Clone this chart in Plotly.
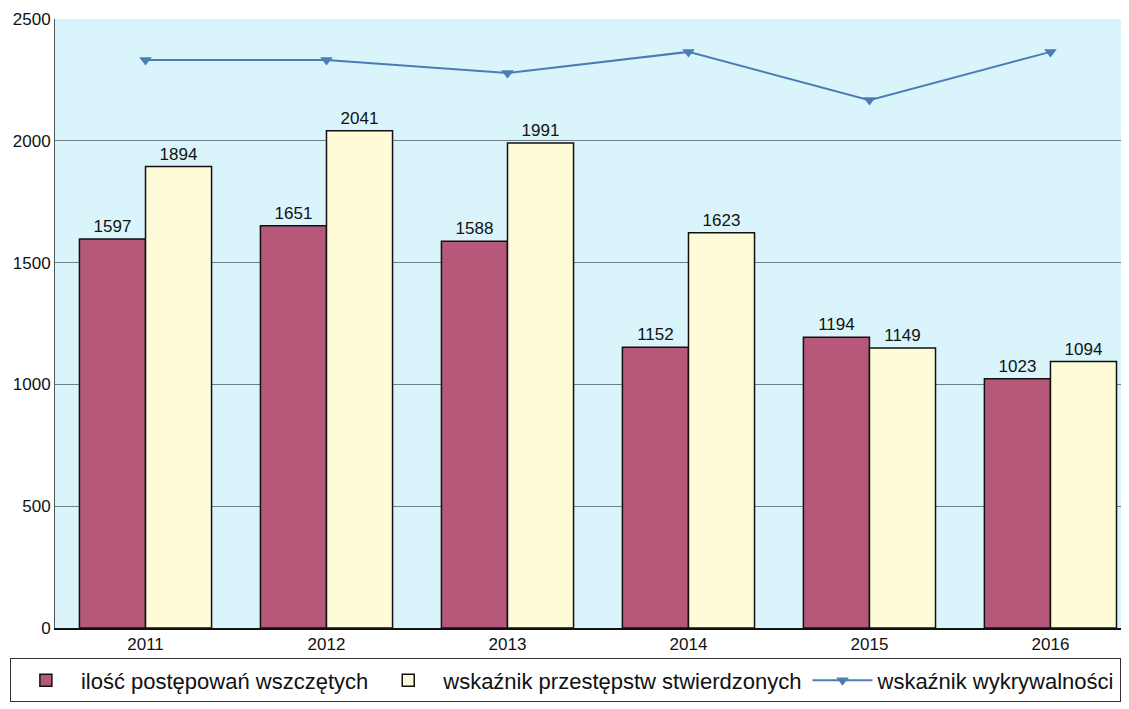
import plotly.graph_objects as go

years = ["2011", "2012", "2013", "2014", "2015", "2016"]
wszczete = [1597, 1651, 1588, 1152, 1194, 1023]
stwierdzone = [1894, 2041, 1991, 1623, 1149, 1094]
wykrywalnosc = [2332, 2332, 2278, 2365, 2167, 2365]
y_ticks = [0, 500, 1000, 1500, 2000, 2500]

FONT = "Liberation Sans, Arial, sans-serif"

fig = go.Figure()
fig.add_trace(go.Bar(
    x=years, y=wszczete, name="ilość postępowań wszczętych",
    marker=dict(color="#b5587a", line=dict(color="#111111", width=1.5)),
    text=wszczete, textposition="outside", cliponaxis=False,
    textfont=dict(size=17, color="#111111", family=FONT),
))
fig.add_trace(go.Bar(
    x=years, y=stwierdzone, name="wskaźnik przestępstw stwierdzonych",
    marker=dict(color="#fdfbd8", line=dict(color="#111111", width=1.5)),
    text=stwierdzone, textposition="outside", cliponaxis=False,
    textfont=dict(size=17, color="#111111", family=FONT),
))
fig.add_trace(go.Scatter(
    x=years, y=wykrywalnosc, name="wskaźnik wykrywalności",
    mode="lines+markers",
    line=dict(color="#4b7cb5", width=2),
    marker=dict(symbol="triangle-down", size=11, color="#4b7cb5"),
))

fig.update_layout(
    width=1121, height=701,
    margin=dict(l=47, r=0, t=11, b=81),
    paper_bgcolor="white", plot_bgcolor="#d9f5fb",
    barmode="group", bargap=0.27, bargroupgap=0,
    font=dict(family=FONT, size=17, color="#111111"),
    showlegend=True,
    legend=dict(
        orientation="h", x=-0.042, xanchor="left", y=-0.05, yanchor="top",
        font=dict(size=22, family=FONT, color="#111111"),
        bordercolor="#333333", borderwidth=1, bgcolor="white",
        itemwidth=60, tracegroupgap=0,
    ),
)
fig.update_xaxes(
    range=[-0.5, 5.434], showline=True, linecolor="#111111", linewidth=1.5,
    ticks="", tickfont=dict(size=17), showgrid=False,
)
fig.update_yaxes(
    range=[0, 2500], tickvals=y_ticks, showgrid=True, gridcolor="#6f8088",
    gridwidth=1, showline=True, linecolor="#555555", linewidth=1,
    tickfont=dict(size=17), zeroline=False, ticks="", ticklen=0,
)

fig.write_html("out.html")
